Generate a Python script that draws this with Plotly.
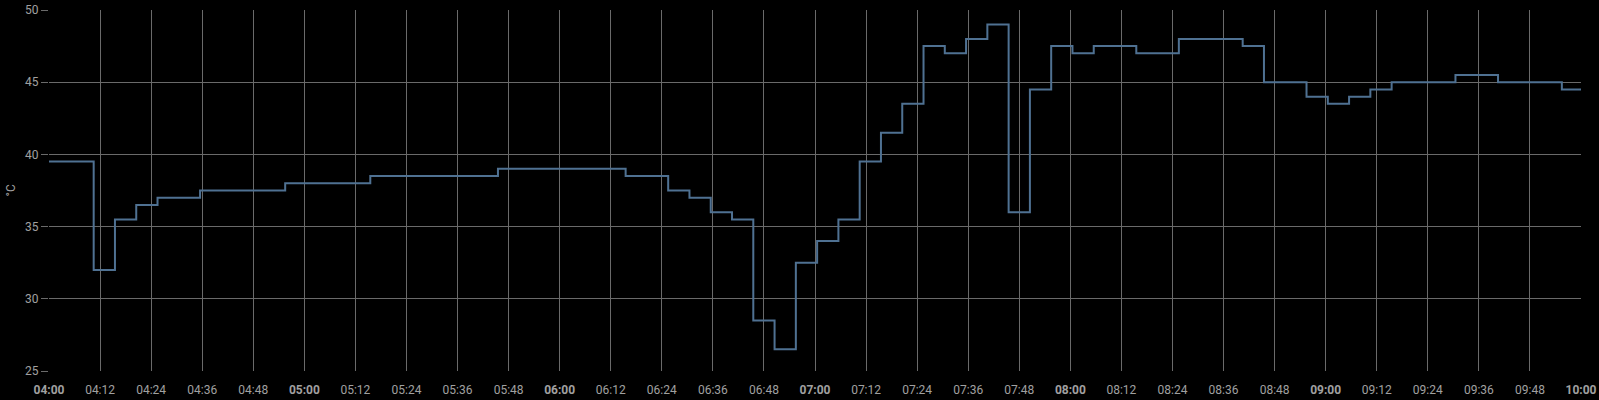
import plotly.graph_objects as go

times = ["2024-01-01 04:00:00", "2024-01-01 04:10:30", "2024-01-01 04:15:30", "2024-01-01 04:20:30",
         "2024-01-01 04:25:30", "2024-01-01 04:35:30", "2024-01-01 04:55:30", "2024-01-01 05:15:30",
         "2024-01-01 05:45:30", "2024-01-01 06:15:30", "2024-01-01 06:25:30", "2024-01-01 06:30:30",
         "2024-01-01 06:35:30", "2024-01-01 06:40:30", "2024-01-01 06:45:30", "2024-01-01 06:50:30",
         "2024-01-01 06:55:30", "2024-01-01 07:00:30", "2024-01-01 07:05:30", "2024-01-01 07:10:30",
         "2024-01-01 07:15:30", "2024-01-01 07:20:30", "2024-01-01 07:25:30", "2024-01-01 07:30:30",
         "2024-01-01 07:35:30", "2024-01-01 07:40:30", "2024-01-01 07:45:30", "2024-01-01 07:50:30",
         "2024-01-01 07:55:30", "2024-01-01 08:00:30", "2024-01-01 08:05:30", "2024-01-01 08:15:30",
         "2024-01-01 08:25:30", "2024-01-01 08:40:30", "2024-01-01 08:45:30", "2024-01-01 08:55:30",
         "2024-01-01 09:00:30", "2024-01-01 09:05:30", "2024-01-01 09:10:30", "2024-01-01 09:15:30",
         "2024-01-01 09:30:30", "2024-01-01 09:40:30", "2024-01-01 09:55:30", "2024-01-01 10:00:00"]
temps = [39.5, 32, 35.5, 36.5, 37, 37.5, 38, 38.5,
         39, 38.5, 37.5, 37,
         36, 35.5, 28.5, 26.5,
         32.5, 34, 35.5, 39.5,
         41.5, 43.5, 47.5, 47,
         48, 49, 36, 44.5,
         47.5, 47, 47.5, 47,
         48, 47.5, 45, 44,
         43.5, 44, 44.5, 45,
         45.5, 45, 44.5, 44.5]

tick_labels = ["04:00", "04:12", "04:24", "04:36", "04:48", "05:00", "05:12", "05:24", "05:36", "05:48",
               "06:00", "06:12", "06:24", "06:36", "06:48", "07:00", "07:12", "07:24", "07:36", "07:48",
               "08:00", "08:12", "08:24", "08:36", "08:48", "09:00", "09:12", "09:24", "09:36", "09:48",
               "10:00"]
tick_vals = ["2024-01-01 " + t + ":00" for t in tick_labels]
tick_text = ["<b>" + t + "</b>" if t.endswith(":00") else t for t in tick_labels]

fig = go.Figure()
fig.add_trace(go.Scatter(
    x=times, y=temps, mode="lines",
    line=dict(shape="hv", color="#4f7192", width=2),
    showlegend=False,
))

grid = "#6a6a6a"
txt = "#a0a0a0"
fig.update_layout(
    width=1599, height=400,
    margin=dict(l=49, r=18, t=10, b=29),
    paper_bgcolor="#000000", plot_bgcolor="#000000",
    font=dict(family="Roboto", size=12, color=txt),
    xaxis=dict(
        type="date", automargin=False,
        range=["2024-01-01 04:00:00", "2024-01-01 10:00:00"],
        tickvals=tick_vals, ticktext=tick_text,
        showgrid=True, gridcolor=grid, gridwidth=1,
        zeroline=False, showline=False,
        ticks="outside", ticklen=8, tickcolor="rgba(0,0,0,0)",
        tickfont=dict(size=12, color=txt),
    ),
    yaxis=dict(
        automargin=False,
        range=[25, 50], tickvals=[25, 30, 35, 40, 45, 50],
        showgrid=True, gridcolor=grid, gridwidth=1,
        zeroline=False, showline=False,
        ticks="outside", ticklen=7, tickcolor=grid,
        tickfont=dict(size=12, color=txt),
    ),
    annotations=[dict(
        text="°C", x=0, xref="paper", xanchor="center", xshift=-39,
        y=0.5, yref="paper", yanchor="middle",
        textangle=-90, showarrow=False, font=dict(size=12, color=txt),
    )],
)

fig.write_html("out.html", config={"displayModeBar": False},
               post_script="document.body.style.margin='0';document.body.style.overflow='hidden';")
